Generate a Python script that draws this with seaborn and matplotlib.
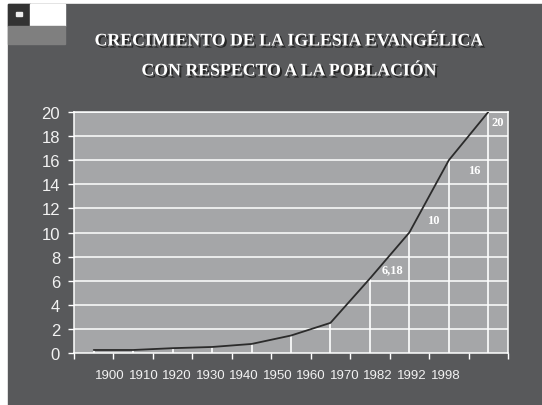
import matplotlib
matplotlib.use("Agg")
import matplotlib.pyplot as plt
import matplotlib.patheffects as pe
from matplotlib.patches import Rectangle
import seaborn as sns
import pandas as pd

# datos
years = ["1900", "1910", "1920", "1930", "1940", "1950", "1960", "1970", "1982", "1992", "1998"]
values = [0.25, 0.25, 0.4, 0.5, 0.75, 1.45, 2.5, 6.18, 10, 16, 20]
point_labels = ["", "", "", "", "", "", "", "6,18", "10", "16", "20"]
y_ticks = [0, 2, 4, 6, 8, 10, 12, 14, 16, 18, 20]

title_1 = "CRECIMIENTO DE LA IGLESIA EVANGÉLICA"
title_2 = "CON RESPECTO A LA POBLACIÓN"

DARK = "#58595b"
PLOT_BG = "#a5a6a8"

sns.set_style("ticks")
plt.rcParams["font.family"] = ["Liberation Sans", "DejaVu Sans"]

df = pd.DataFrame({"idx": range(len(values)), "valor": values})

fig = plt.figure(figsize=(5.42, 4.06), dpi=100, facecolor="white")
W, H = 542, 406

def px_rect(x0, y0, x1, y1, color):
    fig.patches.append(Rectangle((x0 / W, 1 - y1 / H), (x1 - x0) / W, (y1 - y0) / H,
                                 transform=fig.transFigure, color=color, zorder=-5))

# fondo oscuro de la diapositiva y marcas de la esquina
px_rect(8, 5, 542, 406, DARK)
px_rect(8, 5, 30, 27, "#333333")
px_rect(16, 13, 22, 17, "#eeeeee")
px_rect(30, 5, 65, 27, "white")
px_rect(8, 27, 65, 45, "#7f7f7f")

ax = fig.add_axes([74 / W, 1 - 354 / H, 434 / W, 241 / H])
ax.set_zorder(3)
ax.set_facecolor(PLOT_BG)

# lineas de cuadricula horizontales
for v in y_ticks[1:]:
    ax.axhline(v, color="white", lw=1.1, zorder=1)

# lineas verticales desde cada punto
ax.vlines(df["idx"], 0, df["valor"], color="white", lw=1.2, zorder=2)

sns.lineplot(data=df, x="idx", y="valor", ax=ax, color="#2b2b2b", lw=1.3, zorder=3)

offsets = {"6,18": (16, 7), "10": (17, 9), "16": (18, -7), "20": (7, -7)}
for i, (v, lab) in enumerate(zip(values, point_labels)):
    if not lab:
        continue
    dx, dy = offsets[lab]
    ax.annotate(lab, (i, v), xytext=(dx, dy), textcoords="offset points",
                ha="center", va="center", color="white", fontsize=9,
                fontweight="bold", family=["Liberation Serif", "DejaVu Serif"])

ax.set_xlim(-0.5, len(values) - 0.5)
ax.set_ylim(0, 20)
ax.set_xticks([i - 0.5 for i in range(len(values) + 1)])
ax.set_xticklabels([])
ax.set_yticks(y_ticks)
ax.set_yticklabels([str(t) for t in y_ticks], fontsize=12, color="#f2f2f2")
ax.tick_params(axis="both", colors="white", length=4, width=1, direction="out")
ax.tick_params(axis="y", pad=6, labelcolor="#f2f2f2")
ax.set_xlabel("")
ax.set_ylabel("")
for side in ["left", "bottom", "right", "top"]:
    ax.spines[side].set_color("white")
    ax.spines[side].set_linewidth(1.1)

# etiquetas de anos (desplazadas como en el original)
for i, yr in enumerate(years):
    ax.text(0.41 + 0.85 * i, -0.09, yr, transform=ax.get_xaxis_transform(),
            ha="center", va="center", color="#f2f2f2", fontsize=9.5, clip_on=False)

shadow = [pe.withSimplePatchShadow(offset=(1.5, -1.5), shadow_rgbFace="#222222", alpha=0.9)]
fig.text(289 / W, 1 - 42 / H, title_1, ha="center", va="center", color="white",
         fontsize=12.8, fontweight="bold", family=["Liberation Serif", "DejaVu Serif"],
         path_effects=shadow)
fig.text(289 / W, 1 - 72 / H, title_2, ha="center", va="center", color="white",
         fontsize=12.8, fontweight="bold", family=["Liberation Serif", "DejaVu Serif"],
         path_effects=shadow)

fig.savefig("out.png", dpi=100, facecolor=fig.get_facecolor())
